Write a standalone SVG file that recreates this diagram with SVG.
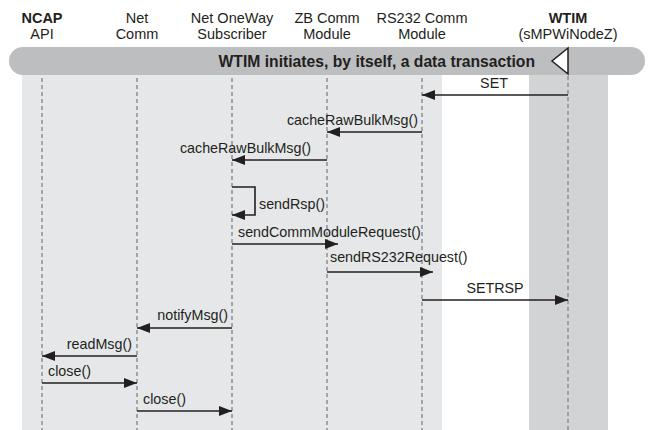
<svg xmlns="http://www.w3.org/2000/svg" width="649" height="430" viewBox="0 0 649 430">
<defs>
<marker id="ah" viewBox="0 0 13 10" refX="13" refY="5" markerWidth="13" markerHeight="10" markerUnits="userSpaceOnUse" orient="auto">
<path d="M0,0 L13,5 L0,10 Z" fill="#231f20"/>
</marker>
<style>
.hd{font-family:"Liberation Sans",Arial,sans-serif;font-size:14.5px;fill:#231f20;text-anchor:middle}
.b{font-weight:bold}
.ll{stroke:#939598;stroke-width:1.6;stroke-dasharray:4,3;fill:none}
.msg{stroke:#231f20;stroke-width:1.6;fill:none;marker-end:url(#ah)}
.lb{font-family:"Liberation Sans",Arial,sans-serif;font-size:14.3px;fill:#231f20}
.bn{font-family:"Liberation Sans",Arial,sans-serif;font-size:15.7px;font-weight:bold;fill:#231f20;text-anchor:end}
</style>
</defs>
<rect width="649" height="430" fill="#ffffff"/>
<rect x="22" y="70" width="420" height="360" fill="#e6e7e8"/>
<rect x="529" y="70" width="79" height="360" fill="#d1d3d4"/>
<rect x="9" y="47" width="636" height="28" rx="14" ry="14" fill="#bcbec0"/>
<g id="ncap"><text class="hd b" x="42" y="23">NCAP</text><text class="hd" x="42" y="39">API</text><line class="ll" x1="42" y1="78" x2="42" y2="430"/></g>
<g id="netcomm"><text class="hd" x="137" y="23">Net</text><text class="hd" x="137" y="39">Comm</text><line class="ll" x1="137" y1="78" x2="137" y2="430"/></g>
<g id="oneway"><text class="hd" x="232" y="23">Net OneWay</text><text class="hd" x="232" y="39">Subscriber</text><line class="ll" x1="232" y1="78" x2="232" y2="430"/></g>
<g id="zb"><text class="hd" x="327" y="23">ZB Comm</text><text class="hd" x="327" y="39">Module</text><line class="ll" x1="327" y1="78" x2="327" y2="430"/></g>
<g id="rs232"><text class="hd" x="422" y="23">RS232 Comm</text><text class="hd" x="422" y="39">Module</text><line class="ll" x1="422" y1="78" x2="422" y2="430"/></g>
<g id="wtim"><text class="hd b" x="568" y="23">WTIM</text><text class="hd" x="568" y="39">(sMPWiNodeZ)</text><line class="ll" x1="568" y1="76" x2="568" y2="430"/></g>
<g id="banner">
<text class="bn" x="535" y="67">WTIM initiates, by itself, a data transaction</text>
<path d="M568,48 L568,74 L552,61 Z" fill="#ffffff" stroke="#231f20" stroke-width="1.5" stroke-linejoin="miter"/>
</g>
<g id="connectors">
<line class="msg" x1="568" y1="95" x2="422" y2="95"/>
<text class="lb" x="494" y="88" text-anchor="middle">SET</text>
<line class="msg" x1="422" y1="132" x2="327" y2="132"/>
<text class="lb" x="418" y="125" text-anchor="end">cacheRawBulkMsg()</text>
<line class="msg" x1="327" y1="160" x2="232" y2="160"/>
<text class="lb" x="311" y="153" text-anchor="end">cacheRawBulkMsg()</text>
<path class="msg" d="M232,187 L255,187 L255,215 L232,215"/>
<text class="lb" x="259" y="209">sendRsp()</text>
<line class="msg" x1="232" y1="244" x2="338" y2="244"/>
<text class="lb" x="238" y="237">sendCommModuleRequest()</text>
<line class="msg" x1="327" y1="272" x2="433" y2="272"/>
<text class="lb" x="330" y="262">sendRS232Request()</text>
<line class="msg" x1="422" y1="300" x2="568" y2="300"/>
<text class="lb" x="495" y="293" text-anchor="middle">SETRSP</text>
<line class="msg" x1="232" y1="328" x2="137" y2="328"/>
<text class="lb" x="228" y="320" text-anchor="end">notifyMsg()</text>
<line class="msg" x1="137" y1="356" x2="42" y2="356"/>
<text class="lb" x="132" y="349" text-anchor="end">readMsg()</text>
<line class="msg" x1="42" y1="383" x2="137" y2="383"/>
<text class="lb" x="48" y="376">close()</text>
<line class="msg" x1="137" y1="411" x2="232" y2="411"/>
<text class="lb" x="143" y="404">close()</text>
</g>
</svg>
